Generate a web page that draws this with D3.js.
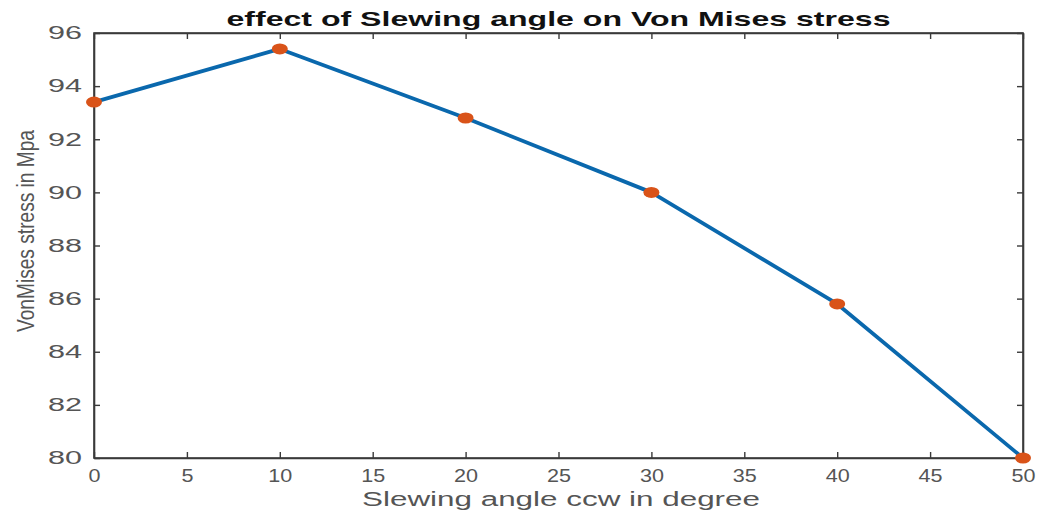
<!DOCTYPE html>
<html>
<head>
<meta charset="utf-8">
<script src="https://d3js.org/d3.v7.min.js"></script>
<style>
body { margin: 0; background: #fff; }
text { font-family: "Liberation Sans", Arial, Helvetica, sans-serif; }
</style>
</head>
<body>
<svg id="chart" width="1038" height="514"></svg>
<script>
const angles = [0, 10, 20, 30, 40, 50];
const stress = [93.4, 95.4, 92.8, 90.0, 85.8, 80.0];
const xTicks = [0, 5, 10, 15, 20, 25, 30, 35, 40, 45, 50];
const yTicks = [80, 82, 84, 86, 88, 90, 92, 94, 96];
const titleText = "effect of Slewing angle on Von Mises stress";
const xLabelText = "Slewing angle ccw in degree";
const yLabelText = "VonMises stress in Mpa";

const svg = d3.select("#chart");
const L = 94, R = 1023, T = 33, B = 458;

const x = d3.scaleLinear().domain([0, 50]).range([L, R]);
const y = d3.scaleLinear().domain([80, 96]).range([B, T]);

const axisColor = "#3a3a3a";
const labelColor = "#555";

// box
svg.append("rect").attr("x", L).attr("y", T).attr("width", R - L).attr("height", B - T)
  .attr("fill", "none").attr("stroke", axisColor).attr("stroke-width", 1.6);

const xAxis = svg.append("g").attr("transform", `translate(0,${B})`)
  .call(d3.axisBottom(x).tickValues(xTicks).tickSizeInner(-6).tickSizeOuter(0).tickPadding(11));
const xTop = svg.append("g").attr("transform", `translate(0,${T})`)
  .call(d3.axisTop(x).tickValues(xTicks).tickSizeInner(-6).tickSizeOuter(0).tickFormat(""));
const yAxis = svg.append("g").attr("transform", `translate(${L},0)`)
  .call(d3.axisLeft(y).tickValues(yTicks).tickSizeInner(-6).tickSizeOuter(0).tickPadding(12));
const yRight = svg.append("g").attr("transform", `translate(${R},0)`)
  .call(d3.axisRight(y).tickValues(yTicks).tickSizeInner(-6).tickSizeOuter(0).tickFormat(""));

[xAxis, xTop, yAxis, yRight].forEach(g => {
  g.select(".domain").attr("stroke", axisColor).attr("stroke-width", 1.6);
  g.selectAll(".tick line").attr("stroke", axisColor).attr("stroke-width", 1.4);
  g.selectAll(".tick text").attr("fill", labelColor).attr("font-size", 18);
});
xAxis.selectAll(".tick text").attr("dy", "0.71em")
  .attr("textLength", d => String(d).length * 12).attr("lengthAdjust", "spacingAndGlyphs");
yAxis.selectAll(".tick text")
  .attr("textLength", d => String(d).length * 17).attr("lengthAdjust", "spacingAndGlyphs");

// line
const line = d3.line().x((d, i) => x(angles[i])).y(d => y(d));
svg.append("path").datum(stress).attr("d", line)
  .attr("fill", "none").attr("stroke", "#0a68ad").attr("stroke-width", 3.8)
  .attr("stroke-linejoin", "round");

// markers
svg.selectAll("ellipse.m").data(stress).join("ellipse").attr("class", "m")
  .attr("cx", (d, i) => x(angles[i])).attr("cy", d => y(d))
  .attr("rx", 8).attr("ry", 5.5).attr("fill", "#D95319");

// title
svg.append("text").attr("x", (L + R) / 2).attr("y", 26).attr("text-anchor", "middle")
  .attr("font-size", 21).attr("font-weight", "bold").attr("fill", "#111")
  .attr("textLength", 664).attr("lengthAdjust", "spacingAndGlyphs")
  .text(titleText);

// x label
svg.append("text").attr("x", 561).attr("y", 506).attr("text-anchor", "middle")
  .attr("font-size", 20).attr("fill", labelColor)
  .attr("textLength", 398).attr("lengthAdjust", "spacingAndGlyphs")
  .text(xLabelText);

// y label
svg.append("text").attr("transform", "translate(34,231) rotate(-90)")
  .attr("text-anchor", "middle").attr("font-size", 23).attr("fill", labelColor)
  .attr("textLength", 202).attr("lengthAdjust", "spacingAndGlyphs")
  .text(yLabelText);
</script>
</body>
</html>
